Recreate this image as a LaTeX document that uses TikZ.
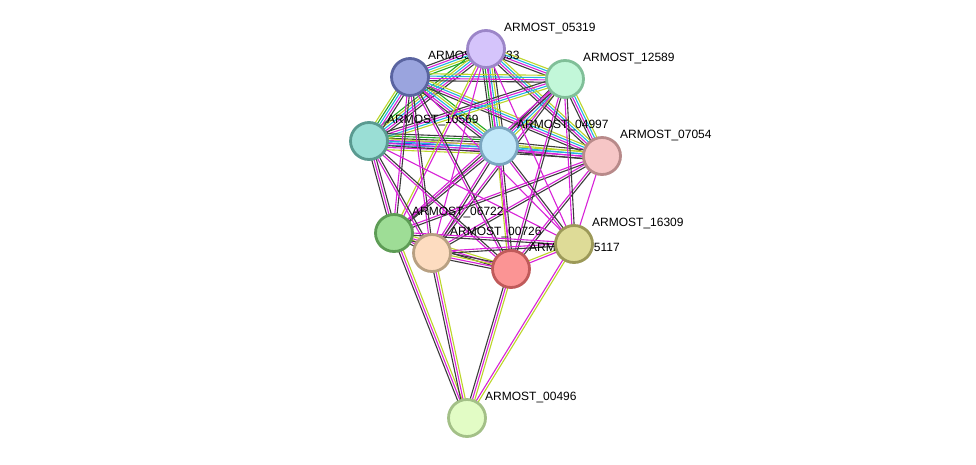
\documentclass[tikz,border=0pt]{standalone}
\usepackage{fontspec}
\setmainfont{Liberation Sans}
\usetikzlibrary{calc,backgrounds}
\definecolor{eg}{HTML}{3C3C3C}
\definecolor{em}{HTML}{D822D8}
\definecolor{ey}{HTML}{BCD62A}
\definecolor{ec}{HTML}{22B4E0}
\definecolor{en}{HTML}{22A822}
\definecolor{eb}{HTML}{3048E0}
\definecolor{fA}{HTML}{D5C4FB}\definecolor{dA}{HTML}{9C86C8}
\definecolor{fB}{HTML}{9AA4DE}\definecolor{dB}{HTML}{5A64A0}
\definecolor{fC}{HTML}{C2F7D9}\definecolor{dC}{HTML}{80BF98}
\definecolor{fD}{HTML}{9ADED5}\definecolor{dD}{HTML}{5A9A90}
\definecolor{fE}{HTML}{C2E8F9}\definecolor{dE}{HTML}{7BA6C0}
\definecolor{fF}{HTML}{F6C6C6}\definecolor{dF}{HTML}{B88A8A}
\definecolor{fG}{HTML}{9EDD96}\definecolor{dG}{HTML}{5D9C55}
\definecolor{fH}{HTML}{FDDCC0}\definecolor{dH}{HTML}{B8A082}
\definecolor{fI}{HTML}{FB9494}\definecolor{dI}{HTML}{C05A5A}
\definecolor{fJ}{HTML}{DEDB97}\definecolor{dJ}{HTML}{9C9958}
\definecolor{fK}{HTML}{E2FCC5}\definecolor{dK}{HTML}{A3C087}
\tikzset{
  prot/.style={circle, minimum size=37pt, inner sep=0pt, line width=2.8pt},
  plabel/.style={anchor=west, font=\fontsize{12}{14}\selectfont, text=black, inner sep=0pt},
  eline/.style={line width=1.1pt}
}
\newcommand\sedge[3]{%
  \foreach \c [count=\i] in {#3}{\xdef\ecnt{\i}}%
  \foreach \c [count=\i] in {#3}{%
    \pgfmathsetmacro\off{(\i-(\ecnt+1)/2)*2.3}%
    \draw[eline,draw=\c] ($(#1)!\off pt!90:(#2)$) -- ($(#2)!\off pt!-90:(#1)$);
  }}
\begin{document}
\begin{tikzpicture}[x=1pt,y=-1pt]
\useasboundingbox (0,0) rectangle (976,464);
% nodes
\node[prot, fill=fA, draw=dA] (A) at (486,49) {};
\node[prot, fill=fB, draw=dB] (B) at (410,77) {};
\node[prot, fill=fC, draw=dC] (C) at (565,79) {};
\node[prot, fill=fD, draw=dD] (D) at (369,141) {};
\node[prot, fill=fE, draw=dE] (E) at (499,146) {};
\node[prot, fill=fF, draw=dF] (F) at (602,156) {};
\node[prot, fill=fG, draw=dG] (G) at (394,233) {};
\node[prot, fill=fH, draw=dH] (H) at (432,253) {};
\node[prot, fill=fI, draw=dI] (I) at (511,269) {};
\node[prot, fill=fJ, draw=dJ] (J) at (574,244) {};
\node[prot, fill=fK, draw=dK] (K) at (467,418) {};
\begin{scope}[on background layer]
\fill[white] (0,0) rectangle (976,464);
% top cluster
\sedge{A}{B}{eg,em,ec,ey,en}
\sedge{A}{C}{eg,em,ec,ey}
\sedge{A}{D}{en,ey,ec,em,eg}
\sedge{A}{E}{eg,en,em,ec,ey,eg}
\sedge{A}{F}{eg,em,ec,ey}
\sedge{B}{C}{eg,em,ec,ey}
\sedge{B}{D}{ey,en,ec,em,eg}
\sedge{B}{E}{eg,em,ec,ey,en}
\sedge{B}{F}{eg,em,ec,ey}
\sedge{C}{D}{eg,em,ec,ey}
\sedge{C}{E}{eg,em,ec,ey}
\sedge{C}{F}{eg,em,ec,ey}
\sedge{D}{E}{ey,em,ec,eb,em,eg,en,eg}
\sedge{D}{F}{eg,em,ec,ey}
\sedge{E}{F}{eg,em,ec,ey,eg}
% bottom to top
\sedge{G}{A}{em,ey}
\sedge{G}{B}{eg,em}
\sedge{G}{C}{eg,em}
\sedge{G}{D}{eg,em,eg}
\sedge{G}{E}{eg,em}
\sedge{G}{F}{eg,em}
\sedge{H}{A}{em}
\sedge{H}{B}{eg,em}
\sedge{H}{C}{eg,em}
\sedge{H}{D}{eg,em}
\sedge{H}{E}{eg,em}
\sedge{H}{F}{eg,em}
\sedge{I}{A}{em}
\sedge{I}{B}{eg,em}
\sedge{I}{C}{eg,em}
\sedge{I}{D}{eg,em}
\sedge{I}{E}{eg,em,ey}
\sedge{I}{F}{eg,em}
\sedge{J}{A}{em}
\sedge{J}{B}{em}
\sedge{J}{C}{eg,em}
\sedge{J}{D}{em}
\sedge{J}{E}{eg,em}
\sedge{J}{F}{em}
% bottom mutual
\sedge{G}{H}{eg,em,ey}
\sedge{G}{I}{eg,em,ey}
\sedge{H}{I}{eg,em,ey,eg}
\sedge{G}{J}{eg,em}
\sedge{H}{J}{eg,em}
\sedge{I}{J}{em,ey}
% to 00496
\sedge{G}{K}{eg,em,ey}
\sedge{H}{K}{eg,em,ey}
\sedge{I}{K}{eg,em,ey}
\sedge{J}{K}{em,ey}
% labels
\node[plabel] (lA) at ($(A)+(18,-21)$) {ARMOST\_05319};
\node[plabel] (lB) at ($(B)+(18,-21)$) {ARMOST\_10633};
\node[plabel] (lC) at ($(C)+(18,-21)$) {ARMOST\_12589};
\node[plabel] (lD) at ($(D)+(18,-21)$) {ARMOST\_10569};
\node[plabel] (lE) at ($(E)+(18,-21)$) {ARMOST\_04997};
\node[plabel] (lF) at ($(F)+(18,-21)$) {ARMOST\_07054};
\node[plabel] (lG) at ($(G)+(18,-21)$) {ARMOST\_06722};
\node[plabel] (lH) at ($(H)+(18,-21)$) {ARMOST\_00726};
\node[plabel] (lI) at ($(I)+(18,-21)$) {ARMOST\_05117};
\node[plabel] (lJ) at ($(J)+(18,-21)$) {ARMOST\_16309};
\node[plabel] (lK) at ($(K)+(18,-21)$) {ARMOST\_00496};
\end{scope}
\end{tikzpicture}
\end{document}
